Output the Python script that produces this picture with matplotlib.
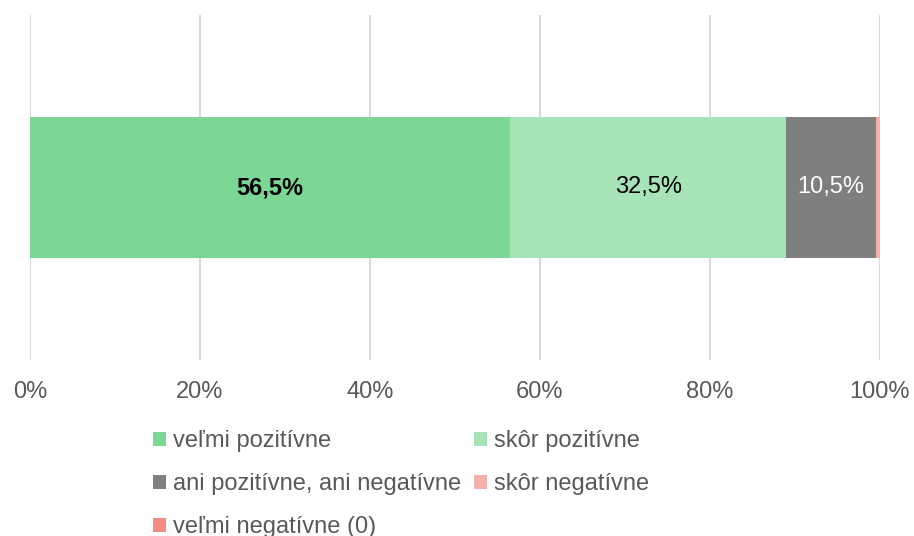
import matplotlib.pyplot as plt
from matplotlib.ticker import FuncFormatter

# Data
categories = ["veľmi pozitívne", "skôr pozitívne", "ani pozitívne, ani negatívne",
              "skôr negatívne", "veľmi negatívne (0)"]
values = [56.5, 32.5, 10.5, 0.5, 0.0]
colors = ["#7DD794", "#A6E4B8", "#7F7F7F", "#F4B1AC", "#F18D84"]
bar_labels = ["56,5%", "32,5%", "10,5%", "", ""]
label_colors = ["black", "black", "white", "black", "black"]
label_weights = ["bold", "normal", "normal", "normal", "normal"]
ticks = [0, 20, 40, 60, 80, 100]

plt.rcParams['font.family'] = ['Liberation Sans', 'DejaVu Sans']

fig = plt.figure(figsize=(9.14, 5.36), dpi=100)
ax = fig.add_axes([30/914, 1 - 360/536, 850/914, 345/536])

left = 0
handles = []
for cat, v, c, lab, lc, lw in zip(categories, values, colors, bar_labels, label_colors, label_weights):
    b = ax.barh(0, v, left=left, height=0.406, color=c, label=cat, zorder=3)
    handles.append(b)
    if lab:
        ax.text(left + v/2, 0, lab, ha="center", va="center", color=lc,
                fontsize=17, fontweight=lw, zorder=4)
    left += v

ax.set_xlim(0, 100)
ax.set_ylim(-0.5, 0.5)
ax.set_xticks(ticks)
ax.xaxis.set_major_formatter(FuncFormatter(lambda x, p: f"{x:.0f}%"))
ax.set_yticks([])
ax.tick_params(axis="x", length=0, labelsize=17, labelcolor="#595959", pad=15)
ax.grid(axis="x", color="#D9D9D9", linewidth=1.5, zorder=0)
for s in ax.spines.values():
    s.set_visible(False)

# legend in row order
order = [0, 2, 4, 1, 3]
leg = fig.legend([handles[i] for i in order], [categories[i] for i in order],
                 ncol=2, loc="upper left", bbox_to_anchor=(153/914, 1 - 430/536),
                 frameon=False, fontsize=17, handlelength=0.55, handleheight=0.55,
                 handletextpad=0.3, columnspacing=0.55, labelspacing=0.9,
                 borderaxespad=0, borderpad=0)
for t in leg.get_texts():
    t.set_color("#595959")

fig.savefig("out.png", dpi=100)
